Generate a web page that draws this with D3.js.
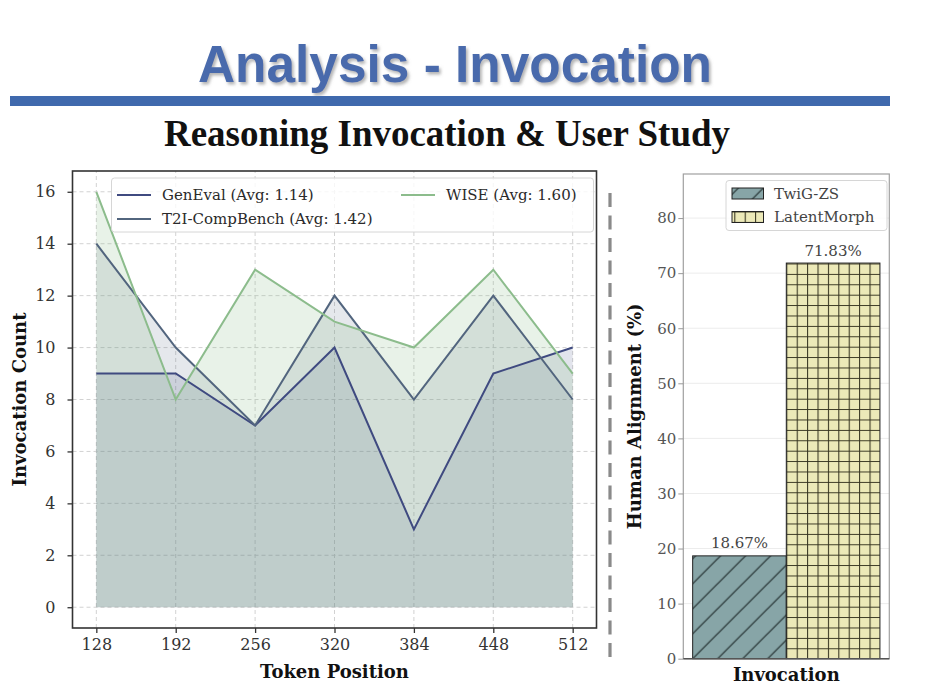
<!DOCTYPE html>
<html>
<head>
<meta charset="utf-8">
<script src="https://cdn.jsdelivr.net/npm/d3@7"></script>
<style>
  html, body { margin: 0; padding: 0; background: #fff; }
  svg { display: block; }
</style>
</head>
<body>
<div id="chart"></div>
<script>
// ---- data ----
const tokenPositions = [128, 192, 256, 320, 384, 448, 512];
const genEval = [9, 9, 7, 10, 3, 9, 10];
const t2iCompBench = [14, 10, 7, 12, 8, 12, 8];
const wise = [16, 8, 13, 11, 10, 13, 9];
const seriesLabels = ["GenEval (Avg: 1.14)", "T2I-CompBench (Avg: 1.42)", "WISE (Avg: 1.60)"];
const leftYTicks = [0, 2, 4, 6, 8, 10, 12, 14, 16];

const methods = ["TwiG-ZS", "LatentMorph"];
const alignment = [18.67, 71.83];
const rightYTicks = [0, 10, 20, 30, 40, 50, 60, 70, 80];

const W = 934, H = 700;
const serif = "'DejaVu Serif', serif";

const svg = d3.select("#chart").append("svg")
    .attr("width", W)
    .attr("height", H);

svg.append("rect").attr("width", W).attr("height", H).attr("fill", "#fff");

const defs = svg.append("defs");

// Title shadow
const shadow = defs.append("filter").attr("id", "shadow")
    .attr("x", "-5%").attr("y", "-20%").attr("width", "110%").attr("height", "150%");
shadow.append("feDropShadow")
    .attr("dx", 2).attr("dy", 2.5).attr("stdDeviation", 1.6)
    .attr("flood-color", "#777").attr("flood-opacity", 0.55);

// ---- header ----
svg.append("text")
    .attr("x", 455).attr("y", 82)
    .attr("text-anchor", "middle")
    .attr("font-family", "'Liberation Sans', Arial, sans-serif")
    .attr("font-weight", "bold")
    .attr("font-size", 51)
    .attr("fill", "#4a6bac")
    .attr("textLength", 514)
    .attr("lengthAdjust", "spacingAndGlyphs")
    .attr("filter", "url(#shadow)")
    .text("Analysis - Invocation");

svg.append("rect")
    .attr("x", 10).attr("y", 96)
    .attr("width", 880).attr("height", 10)
    .attr("fill", "#3f69ad");

svg.append("text")
    .attr("x", 447).attr("y", 146)
    .attr("text-anchor", "middle")
    .attr("font-family", "'Liberation Serif', 'Times New Roman', serif")
    .attr("font-weight", "bold")
    .attr("font-size", 37)
    .attr("fill", "#111")
    .attr("textLength", 566)
    .attr("lengthAdjust", "spacingAndGlyphs")
    .text("Reasoning Invocation & User Study");

// ---- left chart: invocation count ----
const xL = d3.scaleLinear().domain([108.8, 531.2]).range([72.5, 596.5]);
const yL = d3.scaleLinear().domain([-0.8, 16.8]).range([628, 171]);

const left = svg.append("g");

// grid
left.append("g").selectAll("line")
    .data(tokenPositions).join("line")
    .attr("x1", d => xL(d)).attr("x2", d => xL(d))
    .attr("y1", yL.range()[0]).attr("y2", yL.range()[1])
    .attr("stroke", "#d2d2d2").attr("stroke-width", 1)
    .attr("stroke-dasharray", "4,3");
left.append("g").selectAll("line")
    .data(leftYTicks).join("line")
    .attr("x1", xL.range()[0]).attr("x2", xL.range()[1])
    .attr("y1", d => yL(d)).attr("y2", d => yL(d))
    .attr("stroke", "#d2d2d2").attr("stroke-width", 1)
    .attr("stroke-dasharray", "4,3");

const series = [
    { name: seriesLabels[0], values: genEval, color: "#3f4a80", alpha: 0.15 },
    { name: seriesLabels[1], values: t2iCompBench, color: "#52657e", alpha: 0.15 },
    { name: seriesLabels[2], values: wise, color: "#8cbc8c", alpha: 0.2 }
];

const area = d3.area()
    .x((d, i) => xL(tokenPositions[i]))
    .y0(yL(0))
    .y1(d => yL(d));
const line = d3.line()
    .x((d, i) => xL(tokenPositions[i]))
    .y(d => yL(d));

series.forEach(s => {
    left.append("path")
        .datum(s.values)
        .attr("fill", s.color)
        .attr("fill-opacity", s.alpha)
        .attr("d", area);
});
series.forEach(s => {
    left.append("path")
        .datum(s.values)
        .attr("fill", "none")
        .attr("stroke", s.color)
        .attr("stroke-width", 2)
        .attr("stroke-linejoin", "miter")
        .attr("d", line);
});

// axes
const xAxisL = left.append("g")
    .attr("transform", `translate(0,${yL.range()[0]})`)
    .call(d3.axisBottom(xL).tickValues(tokenPositions).tickSize(5).tickPadding(6).tickSizeOuter(0));
const yAxisL = left.append("g")
    .attr("transform", `translate(${xL.range()[0]},0)`)
    .call(d3.axisLeft(yL).tickValues(leftYTicks).tickSize(5).tickPadding(12).tickSizeOuter(0));
[xAxisL, yAxisL].forEach(a => {
    a.select(".domain").remove();
    a.selectAll(".tick line").attr("stroke", "#333").attr("stroke-width", 1.3);
    a.selectAll(".tick text")
        .attr("font-family", serif).attr("font-size", 16).attr("fill", "#333");
});

// frame
left.append("rect")
    .attr("x", xL.range()[0]).attr("y", yL.range()[1])
    .attr("width", xL.range()[1] - xL.range()[0])
    .attr("height", yL.range()[0] - yL.range()[1])
    .attr("fill", "none").attr("stroke", "#333").attr("stroke-width", 1.6);

// legend
const legL = left.append("g");
legL.append("rect")
    .attr("x", 111.5).attr("y", 178)
    .attr("width", 482).attr("height", 54)
    .attr("rx", 3)
    .attr("fill", "#fff").attr("fill-opacity", 0.8)
    .attr("stroke", "#d6d6d6").attr("stroke-width", 1);
const legPos = [
    { lx: 117, ty: 195 },
    { lx: 117, ty: 219 },
    { lx: 401, ty: 195 }
];
series.forEach((s, i) => {
    const p = legPos[i];
    legL.append("line")
        .attr("x1", p.lx).attr("x2", p.lx + 34)
        .attr("y1", p.ty).attr("y2", p.ty)
        .attr("stroke", s.color).attr("stroke-width", 2.2);
    legL.append("text")
        .attr("x", p.lx + 45).attr("y", p.ty)
        .attr("dy", "0.35em")
        .attr("font-family", serif).attr("font-size", 15)
        .attr("fill", "#2a2a2a")
        .text(s.name);
});

// axis labels
left.append("text")
    .attr("x", 334.5).attr("y", 678)
    .attr("text-anchor", "middle")
    .attr("font-family", serif).attr("font-weight", "bold").attr("font-size", 18)
    .attr("fill", "#111")
    .text("Token Position");
left.append("text")
    .attr("transform", `translate(26,${(yL.range()[0] + yL.range()[1]) / 2}) rotate(-90)`)
    .attr("text-anchor", "middle")
    .attr("font-family", serif).attr("font-weight", "bold").attr("font-size", 18)
    .attr("fill", "#111")
    .text("Invocation Count");

// separator
svg.append("line")
    .attr("x1", 610).attr("x2", 610)
    .attr("y1", 193).attr("y2", 660)
    .attr("stroke", "#8a8a8a").attr("stroke-width", 3.2)
    .attr("stroke-dasharray", "14,8.5");

// ---- right chart: human alignment ----
const xR = d3.scaleLinear().domain([-0.55, 0.55]).range([683.3, 889.3]);
const yR = d3.scaleLinear().domain([0, 88]).range([658.7, 174]);
const barOffsets = [-0.5, 0];
const barWidth = 0.5;

// hatch patterns
const diag = defs.append("pattern").attr("id", "hatchDiag")
    .attr("patternUnits", "userSpaceOnUse")
    .attr("x", xR(barOffsets[0])).attr("y", yR(0))
    .attr("width", 25).attr("height", 25);
diag.append("rect").attr("width", 25).attr("height", 25).attr("fill", "#87a5a7");
diag.append("path")
    .attr("d", "M0,25 L25,0 M-6,6 L6,-6 M19,31 L31,19")
    .attr("stroke", "#1f2b2c").attr("stroke-width", 1.2);

const gridSize = 10.4;
const grid = defs.append("pattern").attr("id", "hatchGrid")
    .attr("patternUnits", "userSpaceOnUse")
    .attr("x", xR(barOffsets[1])).attr("y", yR(0))
    .attr("width", gridSize).attr("height", gridSize);
grid.append("rect").attr("width", gridSize).attr("height", gridSize).attr("fill", "#ece9b8");
grid.append("path")
    .attr("d", `M0.5,0 V${gridSize} M0,0.5 H${gridSize}`)
    .attr("stroke", "#35331f").attr("stroke-width", 1.1);

const barFills = ["url(#hatchDiag)", "url(#hatchGrid)"];

const right = svg.append("g");

// grid
right.append("g").selectAll("line")
    .data(rightYTicks.filter(d => d > 0)).join("line")
    .attr("x1", xR.range()[0]).attr("x2", xR.range()[1])
    .attr("y1", d => yR(d)).attr("y2", d => yR(d))
    .attr("stroke", "#ececec").attr("stroke-width", 1);

// bars
right.selectAll("rect.bar")
    .data(alignment).join("rect")
    .attr("class", "bar")
    .attr("x", (d, i) => xR(barOffsets[i]))
    .attr("y", d => yR(d))
    .attr("width", (d, i) => xR(barOffsets[i] + barWidth) - xR(barOffsets[i]))
    .attr("height", d => yR(0) - yR(d))
    .attr("fill", (d, i) => barFills[i])
    .attr("stroke", "#222").attr("stroke-width", 1);

right.selectAll("text.val")
    .data(alignment).join("text")
    .attr("class", "val")
    .attr("x", (d, i) => xR(barOffsets[i] + barWidth / 2))
    .attr("y", d => yR(d) - 7.5)
    .attr("text-anchor", "middle")
    .attr("font-family", serif).attr("font-size", 15)
    .attr("fill", "#444")
    .text(d => d.toFixed(2) + "%");

// frame
right.append("rect")
    .attr("x", xR.range()[0]).attr("y", yR.range()[1])
    .attr("width", xR.range()[1] - xR.range()[0])
    .attr("height", yR.range()[0] - yR.range()[1])
    .attr("fill", "none").attr("stroke", "#a0a0a0").attr("stroke-width", 1.2);
right.append("line")
    .attr("x1", xR.range()[0]).attr("x2", xR.range()[1])
    .attr("y1", yR(0)).attr("y2", yR(0))
    .attr("stroke", "#555").attr("stroke-width", 1.6);

// y axis
const yAxisR = right.append("g")
    .attr("transform", `translate(${xR.range()[0]},0)`)
    .call(d3.axisLeft(yR).tickValues(rightYTicks).tickSize(5).tickPadding(2).tickSizeOuter(0));
yAxisR.select(".domain").remove();
yAxisR.selectAll(".tick line").attr("stroke", "#999").attr("stroke-width", 1);
yAxisR.selectAll(".tick text")
    .attr("font-family", serif).attr("font-size", 15).attr("fill", "#555");

// legend
const legR = right.append("g");
legR.append("rect")
    .attr("x", 726).attr("y", 180.5)
    .attr("width", 161).attr("height", 50)
    .attr("rx", 3)
    .attr("fill", "#fff").attr("fill-opacity", 0.8)
    .attr("stroke", "#d6d6d6").attr("stroke-width", 1);
methods.forEach((m, i) => {
    const cy = i === 0 ? 193.5 : 217;
    legR.append("rect")
        .attr("x", 732).attr("y", cy - 5.5)
        .attr("width", 31.5).attr("height", 11)
        .attr("fill", barFills[i])
        .attr("stroke", "#222").attr("stroke-width", 1);
    legR.append("text")
        .attr("x", 774).attr("y", cy)
        .attr("dy", "0.35em")
        .attr("font-family", serif).attr("font-size", 15)
        .attr("fill", "#444")
        .text(m);
});

// axis labels
right.append("text")
    .attr("x", xR(0)).attr("y", 681)
    .attr("text-anchor", "middle")
    .attr("font-family", serif).attr("font-weight", "bold").attr("font-size", 18)
    .attr("fill", "#111")
    .text("Invocation");
right.append("text")
    .attr("transform", `translate(641,${(yR.range()[0] + yR.range()[1]) / 2}) rotate(-90)`)
    .attr("text-anchor", "middle")
    .attr("font-family", serif).attr("font-weight", "bold").attr("font-size", 18)
    .attr("fill", "#111")
    .text("Human Alignment (%)");
</script>
</body>
</html>
